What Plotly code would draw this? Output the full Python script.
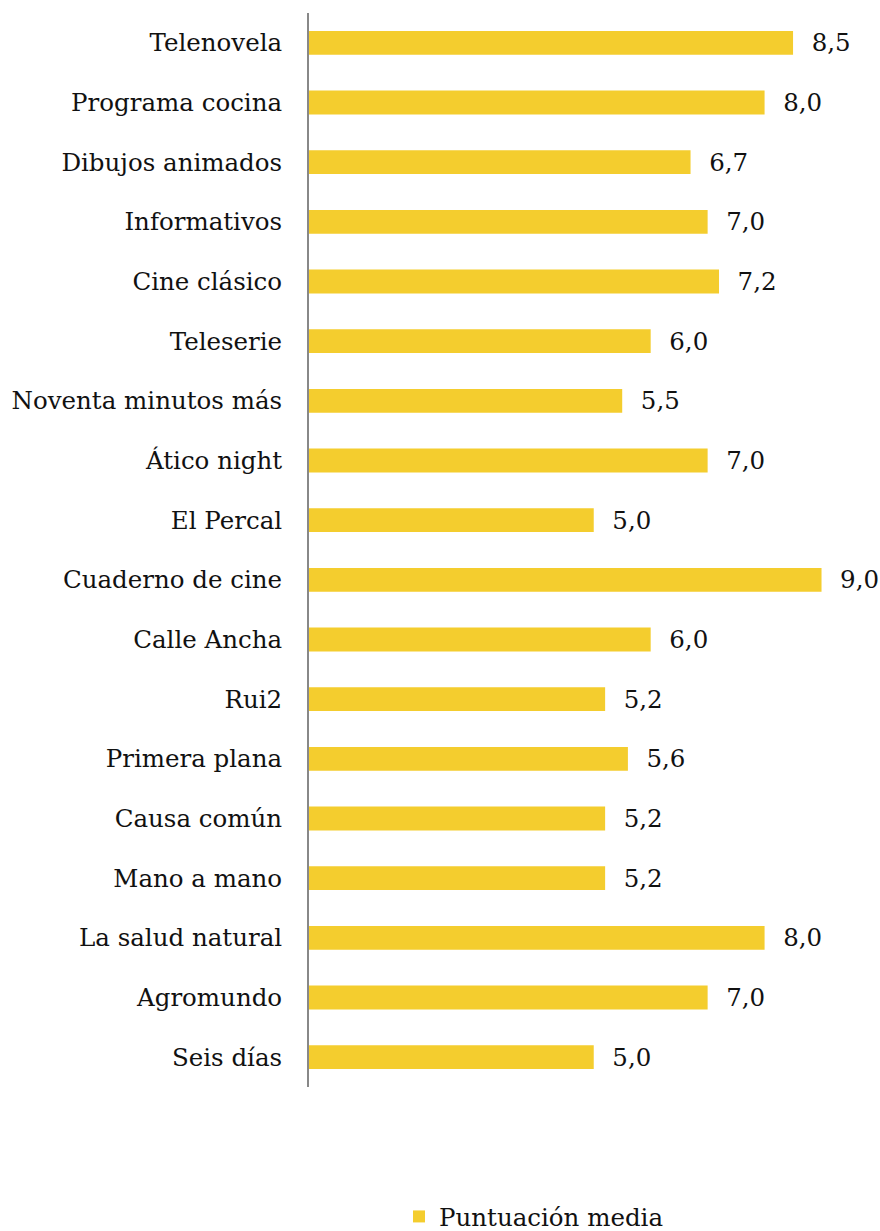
import plotly.graph_objects as go

categories = ["Telenovela", "Programa cocina", "Dibujos animados", "Informativos",
              "Cine clásico", "Teleserie", "Noventa minutos más", "Ático night",
              "El Percal", "Cuaderno de cine", "Calle Ancha", "Rui2", "Primera plana",
              "Causa común", "Mano a mano", "La salud natural", "Agromundo", "Seis días"]
values = [8.5, 8.0, 6.7, 7.0, 7.2, 6.0, 5.5, 7.0, 5.0, 9.0, 6.0, 5.2, 5.6, 5.2, 5.2, 8.0, 7.0, 5.0]
series_name = "Puntuación media"

FONT = "DejaVu Serif"
FS = 24.5

fig = go.Figure(go.Bar(
    y=categories, x=values, orientation="h", name=series_name,
    marker=dict(color="#F4CD2E", line=dict(width=0)),
    texttemplate="  %{x:.1f}", textposition="outside", constraintext="none",
    textfont=dict(family=FONT, size=FS, color="#111111"),
    cliponaxis=False, showlegend=True,
))

W, H = 880, 1231
L, R, T, B = 309, 30, 13, 144
PW, PH = W - L - R, H - T - B
fig.update_layout(
    width=W, height=H, separators=",.",
    margin=dict(l=L, r=R, t=T, b=B, autoexpand=False),
    paper_bgcolor="white", plot_bgcolor="white",
    bargap=0.6,
    font=dict(family=FONT, size=FS, color="#111111"),
    xaxis=dict(range=[0, 9.5], visible=False, showgrid=False, zeroline=False,
               automargin=False),
    yaxis=dict(autorange="reversed", showline=True, linecolor="#888888", linewidth=2,
               ticks="", ticklabelstandoff=20, showgrid=False, automargin=False,
               tickfont=dict(family=FONT, size=FS, color="#111111")),
    legend=dict(orientation="h", x=90 / PW, xanchor="left",
                y=-(B + 8) / PH, yanchor="bottom",
                font=dict(family=FONT, size=FS, color="#111111"),
                bgcolor="rgba(0,0,0,0)",
                itemwidth=30, traceorder="normal"),
)
fig.write_html("out.html", config={"displayModeBar": False},
               post_script="document.body.style.margin='0';document.body.style.overflow='hidden';")
